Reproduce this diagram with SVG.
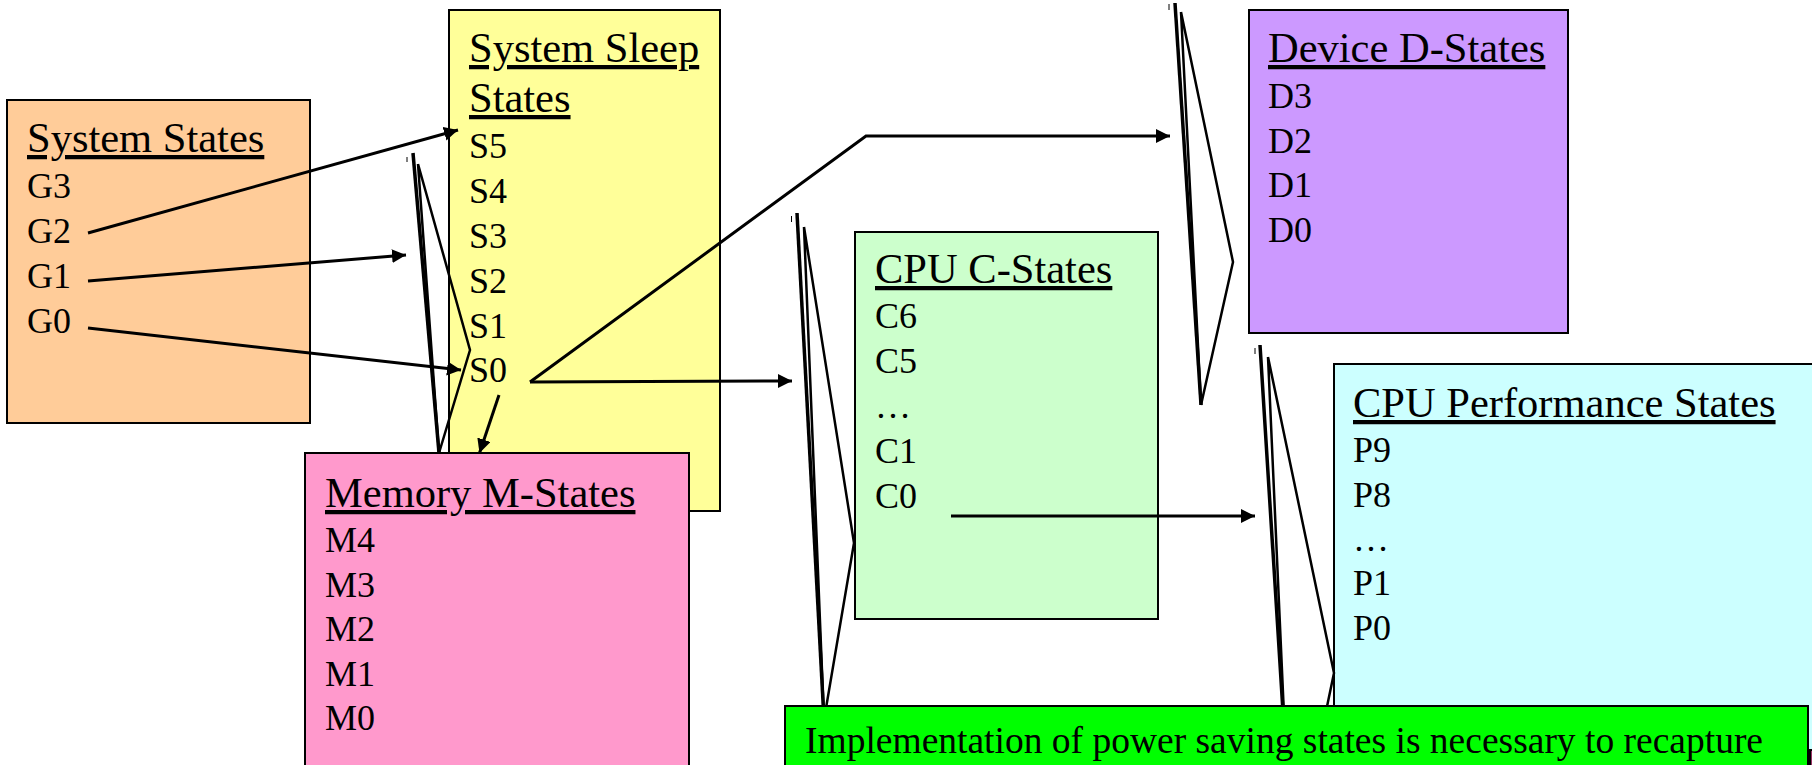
<svg xmlns="http://www.w3.org/2000/svg" width="1812" height="765" viewBox="0 0 1812 765">
<defs>
<marker id="ah" markerUnits="userSpaceOnUse" markerWidth="16" markerHeight="16" refX="14" refY="7" orient="auto">
<path d="M0,0 L14,7 L0,14 z" fill="#000"/>
</marker>
<style>
.box{stroke:#000;stroke-width:2}
.t{font-family:"Liberation Serif","Times New Roman",serif;font-size:42.5px;fill:#000;text-decoration:underline}
.i{font-family:"Liberation Serif","Times New Roman",serif;font-size:36px;fill:#000}
.b{font-family:"Liberation Serif","Times New Roman",serif;font-size:37.5px;fill:#000}
.a{fill:none;stroke:#000;stroke-width:3}
.k1{fill:none;stroke:#000;stroke-width:3.5}
.k2{fill:none;stroke:#000;stroke-width:2.5}
.tk{fill:none;stroke:#000;stroke-width:1}
</style>
</defs>
<rect width="1812" height="765" fill="#fff"/>

<g id="system-states">
<rect class="box" x="7" y="100" width="303" height="323" fill="#FFCC99"/>
<text class="t" x="27" y="152">System States</text>
<text class="i" x="27" y="198">G3</text>
<text class="i" x="27" y="243">G2</text>
<text class="i" x="27" y="288">G1</text>
<text class="i" x="27" y="333">G0</text>
</g>

<g id="system-sleep-states">
<rect class="box" x="449" y="10" width="271" height="501" fill="#FFFF99"/>
<text class="t" x="469" y="62">System Sleep</text>
<text class="t" x="469" y="112">States</text>
<text class="i" x="469" y="158">S5</text>
<text class="i" x="469" y="203">S4</text>
<text class="i" x="469" y="248">S3</text>
<text class="i" x="469" y="293">S2</text>
<text class="i" x="469" y="338">S1</text>
<text class="i" x="469" y="382">S0</text>
</g>

<g id="device-d-states">
<rect class="box" x="1249" y="10" width="319" height="323" fill="#CC99FF"/>
<text class="t" x="1268" y="62">Device D-States</text>
<text class="i" x="1268" y="108">D3</text>
<text class="i" x="1268" y="153">D2</text>
<text class="i" x="1268" y="197">D1</text>
<text class="i" x="1268" y="242">D0</text>
</g>

<g id="cpu-c-states">
<rect class="box" x="855" y="232" width="303" height="387" fill="#CCFFCC"/>
<text class="t" x="875" y="283">CPU C-States</text>
<text class="i" x="875" y="328">C6</text>
<text class="i" x="875" y="373">C5</text>
<text class="i" x="875" y="418">…</text>
<text class="i" x="875" y="463">C1</text>
<text class="i" x="875" y="508">C0</text>
</g>

<g id="cpu-performance-states">
<rect class="box" x="1334" y="364" width="500" height="420" fill="#CCFFFF"/>
<text class="t" x="1353" y="417">CPU Performance States</text>
<text class="i" x="1353" y="462">P9</text>
<text class="i" x="1353" y="507">P8</text>
<text class="i" x="1353" y="551">…</text>
<text class="i" x="1353" y="595">P1</text>
<text class="i" x="1353" y="640">P0</text>
</g>

<g id="connectors">
<path class="a" d="M88,233 L458,130" marker-end="url(#ah)"/>
<path class="a" d="M88,281 L406,255" marker-end="url(#ah)"/>
<path class="a" d="M88,328 L461,370" marker-end="url(#ah)"/>
<path class="a" d="M530,382 L792,381" marker-end="url(#ah)"/>
<path class="a" d="M530,382 L866,136 L1170,136" marker-end="url(#ah)"/>
<path class="a" d="M499,395 L479.5,453" marker-end="url(#ah)"/>
<path class="a" d="M951,516 L1255,516" marker-end="url(#ah)"/>

<line class="tk" x1="407" y1="157" x2="407" y2="162"/>
<path class="k1" d="M413,153 L439,453"/>
<path class="k2" d="M418,164 L439,453 M418,164 L470,350 L439,453"/>

<line class="tk" x1="791.5" y1="216" x2="791.5" y2="222"/>
<path class="k1" d="M797,213 L824,720"/>
<path class="k2" d="M804,227 L824,720 M804,227 L854,543 L824,720"/>

<line class="tk" x1="1169" y1="4" x2="1169" y2="10"/>
<path class="k1" d="M1175,3 L1201,405"/>
<path class="k2" d="M1181,12 L1201,405 M1181,12 L1233,262 L1201,405"/>

<line class="tk" x1="1255" y1="348" x2="1255" y2="354"/>
<path class="k1" d="M1260,345 L1286,760"/>
<path class="k2" d="M1268,357 L1286,760 M1268,357 L1334,673 L1320,740"/>
</g>

<g id="memory-m-states">
<rect class="box" x="305" y="453" width="384" height="330" fill="#FF99CC"/>
<text class="t" x="325" y="507">Memory M-States</text>
<text class="i" x="325" y="552">M4</text>
<text class="i" x="325" y="597">M3</text>
<text class="i" x="325" y="641">M2</text>
<text class="i" x="325" y="686">M1</text>
<text class="i" x="325" y="730">M0</text>
</g>

<g id="note">
<rect class="box" x="785" y="706" width="1023" height="80" fill="#00FF00"/>
<text class="b" x="805" y="753">Implementation of power saving states is necessary to recapture</text>
</g>

<g id="edge-fragment">
<rect x="1810" y="750" width="4" height="20" fill="#993366" stroke="#000" stroke-width="2"/>
</g>
</svg>
